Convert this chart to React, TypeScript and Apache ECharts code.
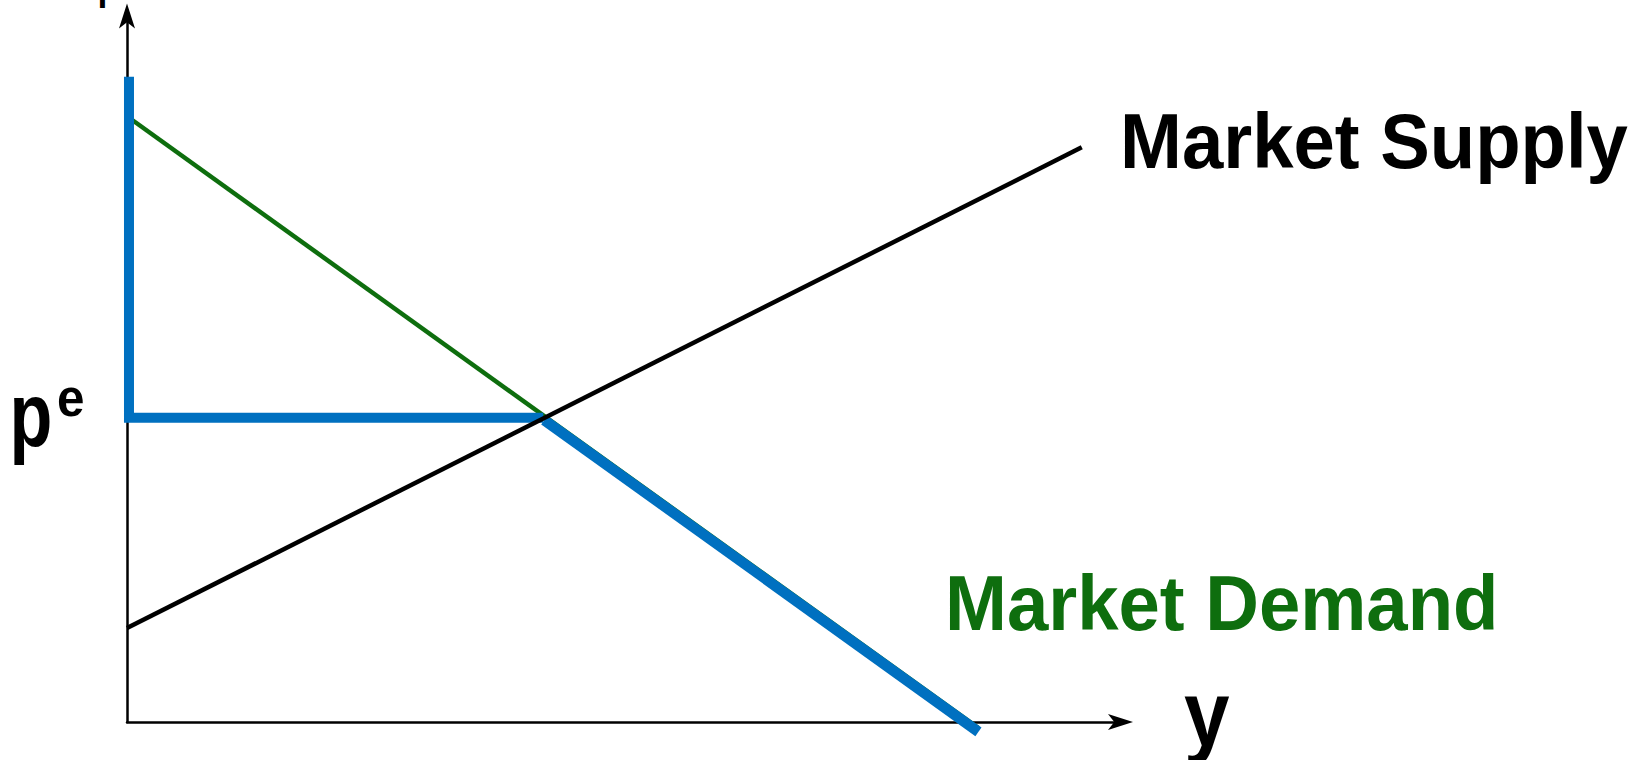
import React, { useEffect, useRef } from 'react';
import * as echarts from 'echarts';

// Data (x: quantity, y: price, both on a 0–100 scale)
const supplyCurve: [number, number][] = [[0, 13.3], [96.1, 81.4]];
const demandCurve: [number, number][] = [[0, 85.8], [85.7, -0.85]];
const priceCeilingPath: [number, number][] = [[0.2, 91.4], [0.2, 43.1], [41.9, 43.1]];
const demandSegmentPath: [number, number][] = [[42.0, 42.76], [85.7, -1.4]];

const supplyLabel = 'Market Supply';
const demandLabel = 'Market Demand';
const priceLabel = 'p';
const priceSup = 'e';
const qtyLabel = 'y';

const GREEN = '#0e6e0e';
const BLUE = '#0070c0';
const FONT = "'Liberation Sans', Arial, Helvetica, sans-serif";

export default function App() {
  const ref = useRef<HTMLDivElement>(null);
  useEffect(() => {
    const chart = echarts.init(ref.current!, null, { renderer: 'svg' });
    const axisBase = {
      type: 'value',
      min: 0,
      max: 100,
      axisLine: {
        show: true,
        symbol: ['none', 'arrow'],
        symbolSize: [12, 25],
        symbolOffset: [0, 12.5],
        lineStyle: { color: '#000', width: 2.5 },
      },
      axisTick: { show: false },
      axisLabel: { show: false },
      splitLine: { show: false },
    };
    const txt = (x: number, y: number, text: string, size: number, fill: string, sx: number) => ({
      type: 'text',
      x,
      y,
      scaleX: sx,
      silent: true,
      style: {
        text,
        fontSize: size,
        fontWeight: 'bold',
        fontFamily: FONT,
        fill,
        align: 'left',
        textAlign: 'left',
        verticalAlign: 'middle',
        textVerticalAlign: 'middle',
      },
    });
    chart.setOption({
      animation: false,
      backgroundColor: '#fff',
      grid: { left: 127, right: 525.5, top: 16, bottom: 38 },
      xAxis: { ...axisBase },
      yAxis: { ...axisBase },
      series: [
        {
          type: 'line',
          data: demandCurve,
          symbol: 'none',
          clip: false,
          silent: true,
          lineStyle: { color: GREEN, width: 4.5, cap: 'butt' },
        },
        {
          type: 'line',
          data: priceCeilingPath,
          symbol: 'none',
          clip: false,
          silent: true,
          lineStyle: { color: BLUE, width: 10, cap: 'butt', join: 'miter' },
        },
        {
          type: 'line',
          data: demandSegmentPath,
          symbol: 'none',
          clip: false,
          silent: true,
          lineStyle: { color: BLUE, width: 10.5, cap: 'butt' },
        },
        {
          type: 'line',
          data: supplyCurve,
          symbol: 'none',
          clip: false,
          silent: true,
          lineStyle: { color: '#000', width: 4.5, cap: 'butt' },
        },
      ],
      graphic: [
        txt(1120, 141, supplyLabel, 78, '#000', 0.953),
        txt(945, 602.6, demandLabel, 78, GREEN, 0.953),
        txt(9.4, 414.5, priceLabel, 90, '#000', 0.78),
        txt(57, 398, priceSup, 52, '#000', 0.95),
        txt(1184, 714, qtyLabel, 92, '#000', 0.89),
        txt(97.6, -13.8, priceLabel, 40, '#000', 0.89),
      ],
    });
    return () => chart.dispose();
  }, []);
  return (
    <div
      ref={ref}
      style={{ position: 'absolute', left: 0, top: 0, width: 1646, height: 760, background: '#fff' }}
    />
  );
}
